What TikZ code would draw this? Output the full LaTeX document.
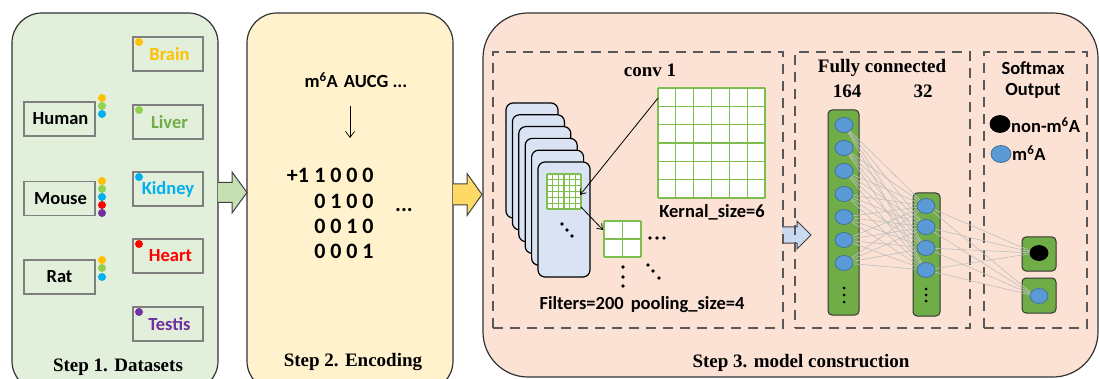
\documentclass[tikz,border=0pt]{standalone}
\usepackage{fontspec}
\setmainfont{Liberation Serif}
\newfontfamily\calib{Carlito}
\usetikzlibrary{arrows.meta,shapes.geometric}
\definecolor{pone}{HTML}{E2EFDA}
\definecolor{ptwo}{HTML}{FFF2CC}
\definecolor{pthree}{HTML}{FBE2D5}
\definecolor{garrow}{HTML}{C5E0B4}
\definecolor{yarrow}{HTML}{FFD966}
\definecolor{barrow}{HTML}{C9DAF0}
\definecolor{cardblue}{HTML}{DAE3F3}
\definecolor{gline}{HTML}{7DBE4F}
\definecolor{bargreen}{HTML}{70AD47}
\definecolor{nblue}{HTML}{5B9BD5}
\definecolor{nborder}{HTML}{41719C}
\definecolor{dgray}{HTML}{595959}
\definecolor{bgray}{HTML}{7F7F7F}
\definecolor{dorange}{HTML}{FFC000}
\definecolor{dgreen}{HTML}{92D050}
\definecolor{dblue}{HTML}{00B0F0}
\definecolor{dred}{HTML}{FF0000}
\definecolor{dpurple}{HTML}{7030A0}
\definecolor{tgreen}{HTML}{70AD47}
\newcommand\gridbox[5]{%
  \fill[white] (#1,#2) rectangle ++(#3,#4);
  \foreach \k in {0,...,#5} {
    \draw[gridline] ({#1+#3*\k/#5},#2) -- ++(0,#4);
    \draw[gridline] (#1,{#2+#4*\k/#5}) -- ++(#3,0);
  }}
\newcommand\blockarrow[7]{% x1 x2 y hs hh hl fill
  \draw[line width=1pt, draw=black!75, fill=#7]
    (#1,{#3-#4}) -- ({#2-#6},{#3-#4}) -- ({#2-#6},{#3-#5}) -- (#2,#3)
    -- ({#2-#6},{#3+#5}) -- ({#2-#6},{#3+#4}) -- (#1,{#3+#4});}
\begin{document}
\begin{tikzpicture}[x=1pt,y=-1pt,
  panel/.style={draw=black!80, line width=1.2pt, inner sep=0pt},
  sansb/.style={font=\calib\bfseries\fontsize{18.5}{20}\selectfont, inner sep=0pt},
  matb/.style={font=\calib\bfseries\fontsize{22}{24}\selectfont, inner sep=0pt},
  serifb/.style={font=\bfseries\fontsize{19}{21}\selectfont, inner sep=0pt},
  lbox/.style={draw=bgray, line width=1.3pt, minimum width=71pt, minimum height=34pt, inner sep=0pt},
  tbox/.style={draw=bgray, line width=1.3pt, minimum width=70pt, minimum height=34pt, inner sep=0pt},
  dashbox/.style={draw=dgray, line width=2.6pt, dash pattern=on 10pt off 7pt, inner sep=0pt},
  gridline/.style={draw=gline, line width=1.2pt},
  card/.style={draw=black, line width=1.2pt, fill=cardblue, rounded corners=7pt},
  bar/.style={draw=black!80, line width=1pt, fill=bargreen, rounded corners=4pt, inner sep=0pt},
  neuron/.style={ellipse, minimum width=18pt, minimum height=15pt, inner sep=0pt, fill=nblue, draw=nborder, line width=0.8pt},
  conn/.style={draw=black!25, line width=0.6pt},
  thinarrow/.style={draw=black, line width=0.8pt, -{Straight Barb[length=5pt,width=7pt]}},
  dot/.style={fill=black}
]
\useasboundingbox (0,0) rectangle (1099,379);
\begin{scope}
\clip (0,0) rectangle (1099,379);
% panels
\node[panel, fill=pone, rounded corners=30pt, minimum width=206pt, minimum height=378pt] (p1) at (115,202) {};
\node[panel, fill=ptwo, rounded corners=30pt, minimum width=206pt, minimum height=378pt] (p2) at (350,202) {};
\node[panel, fill=pthree, rounded corners=45pt, minimum width=615pt, minimum height=364pt] (p3) at (790.5,195) {};
\end{scope}
% block arrows between panels
\blockarrow{218}{247}{192.5}{10}{20.5}{15}{garrow}
\blockarrow{453}{482}{194.5}{10.5}{21}{15}{yarrow}
\blockarrow{782}{811}{235}{8}{14}{14}{barrow}

% ---------- Step 1 ----------
\node[lbox, sansb] (human) at (59.5,119) {\hspace{2pt}Human};
\node[lbox, sansb] (mouse) at (59.5,198.5) {\hspace{2pt}Mouse};
\node[lbox, sansb] (rat) at (59.5,277) {Rat};
\fill[dorange] (102,98) circle (4pt);
\fill[dgreen] (102,106) circle (4pt);
\fill[dblue] (102,114) circle (4pt);
\fill[dorange] (102,181) circle (4pt);
\fill[dgreen] (102,189) circle (4pt);
\fill[dblue] (102,197) circle (4pt);
\fill[dred] (102,205) circle (4pt);
\fill[dpurple] (102,213) circle (4pt);
\fill[dorange] (102,260) circle (4pt);
\fill[dgreen] (102,268) circle (4pt);
\fill[dblue] (102,277) circle (4pt);
\node[tbox, sansb, text=dorange] (brain) at (168,54) {\hspace{3pt}Brain};
\node[tbox, sansb, text=tgreen] (liver) at (168,122) {\hspace{3pt}Liver};
\node[tbox, sansb, text=dblue] (kidney) at (168,189) {Kidney};
\node[tbox, sansb, text=dred] (heart) at (168,256) {\hspace{5pt}Heart};
\node[tbox, sansb, text=dpurple] (testis) at (168,324) {\hspace{3pt}Testis};
\fill[dorange] (139,42) circle (4pt);
\fill[dgreen] (139,110) circle (4pt);
\fill[dblue] (139,177) circle (4pt);
\fill[dred] (139,244) circle (4pt);
\fill[dpurple] (139,312) circle (4pt);
\node[serifb] (s1) at (118,367) {Step 1. Datasets};

% ---------- Step 2 ----------
\node[sansb] (seq) at (356,80) {m\textsuperscript{6}A\hspace{6pt}AUCG ...};
\coordinate (d1) at (350,106);
\coordinate (d2) at (350,138);
\draw[draw=black, line width=0.7pt, -{Straight Barb[length=6pt,width=9pt]}] (d1) -- (d2);
\node[matb] (plus) at (298,175) {+1};
\foreach \r/\y/\vals in {1/175/{1,0,0,0}, 2/201/{0,1,0,0}, 3/226/{0,0,1,0}, 4/251/{0,0,0,1}} {
  \foreach \v [count=\c] in \vals {
    \node[matb] (m-\r-\c) at ({304+16*\c},\y) {\v};
  }
}
\node[matb] (mdots) at (404,210) {...};
\node[serifb] (s2) at (353,362) {Step 2. Encoding};

% ---------- Step 3 ----------
\node[dashbox, minimum width=290pt, minimum height=276pt] (convbox) at (638,190) {};
\node[dashbox, minimum width=175pt, minimum height=276pt] (fcbox) at (882.5,190) {};
\node[dashbox, minimum width=103pt, minimum height=276pt] (smbox) at (1035.5,190) {};

\node[serifb] (conv) at (650,70) {conv 1};
% filter cards
\foreach \i in {0,...,5} {
  \draw[card] ({506+6.4*\i},{103+11.8*\i}) rectangle ++(52,115);
}
\gridbox{547}{174}{34}{35}{6}
\fill[dot] (562,224) circle (1.8pt);
\fill[dot] (567,230) circle (1.8pt);
\fill[dot] (572,236) circle (1.8pt);
% big kernel grid
\gridbox{658}{88}{107}{110}{6}
\node[sansb] (kern) at (712,212) {Kernal\_size=6};
% pooling grid
\gridbox{604}{221}{37}{36}{2}
\fill[dot] (650,238) circle (1.8pt);
\fill[dot] (657,238) circle (1.8pt);
\fill[dot] (664,238) circle (1.8pt);
\fill[dot] (623,267) circle (1.8pt);
\fill[dot] (623,277) circle (1.8pt);
\fill[dot] (623,286) circle (1.8pt);
\fill[dot] (648,265) circle (1.8pt);
\fill[dot] (653,271) circle (1.8pt);
\fill[dot] (659,278) circle (1.8pt);
\coordinate (ka) at (658,98);
\coordinate (kb) at (580,195);
\coordinate (pa) at (581,207);
\coordinate (pb) at (603,230);
\draw[thinarrow] (ka) -- (kb);
\draw[thinarrow] (pa) -- (pb);
\node[sansb] (filt) at (642,305) {Filters=200\hspace{7pt}pooling\_size=4};

% fully connected
\node[serifb] (fc) at (882,68) {Fully connected};
\node[serifb] (n164) at (847,91) {164};
\node[serifb] (n32) at (923,91) {32};
\node[bar, minimum width=31pt, minimum height=205pt] (bar1) at (843.5,212.5) {};
\node[bar, minimum width=27pt, minimum height=123pt] (bar2) at (926.5,254.5) {};
\node[bar, minimum width=34pt, minimum height=34pt] (ob1) at (1039,254) {};
\node[bar, minimum width=34pt, minimum height=35pt] (ob2) at (1039,295.5) {};
\foreach \i/\y in {1/125,2/148,3/171,4/194,5/217,6/240,7/263} {
  \coordinate (q1-\i) at (844,\y);
}
\foreach \j/\y in {1/206,2/227,3/248,4/270} {
  \coordinate (q2-\j) at (926,\y);
}
\foreach \i in {1,...,7} { \foreach \j in {1,...,4} {
  \draw[conn] (q1-\i) -- (q2-\j);
}}
\coordinate (qo1) at (1035,253);
\coordinate (qo2) at (1035,296);
\foreach \j in {1,...,4} {
  \draw[conn] (q2-\j) -- (qo1);
  \draw[conn] (q2-\j) -- (qo2);
}
\foreach \i in {1,...,7} { \node[neuron] (c1-\i) at (q1-\i) {}; }
\foreach \j in {1,...,4} { \node[neuron] (c2-\j) at (q2-\j) {}; }
\node[neuron, fill=black, draw=black] (o1) at (1039,253) {};
\node[neuron] (o2) at (1039,296) {};
\foreach \y in {288,295,302} { \fill[dot] (844,\y) circle (1.5pt); }
\foreach \y in {289,295,301} { \fill[dot] (926,\y) circle (1.5pt); }

% softmax
\node[sansb] (soft) at (1033,68) {Softmax};
\node[sansb] (outp) at (1033,91) {Output};
\node[neuron, fill=black, draw=black, minimum width=20pt, minimum height=17pt] (lg1) at (1000,124) {};
\node[sansb, anchor=west] (lt1) at (1011,125) {non-m\textsuperscript{6}A};
\node[neuron, minimum width=20pt, minimum height=17pt] (lg2) at (1001,154) {};
\node[sansb, anchor=west] (lt2) at (1012,153) {m\textsuperscript{6}A};

\node[serifb] (s3) at (801,363) {Step 3. model construction};
\end{tikzpicture}
\end{document}
